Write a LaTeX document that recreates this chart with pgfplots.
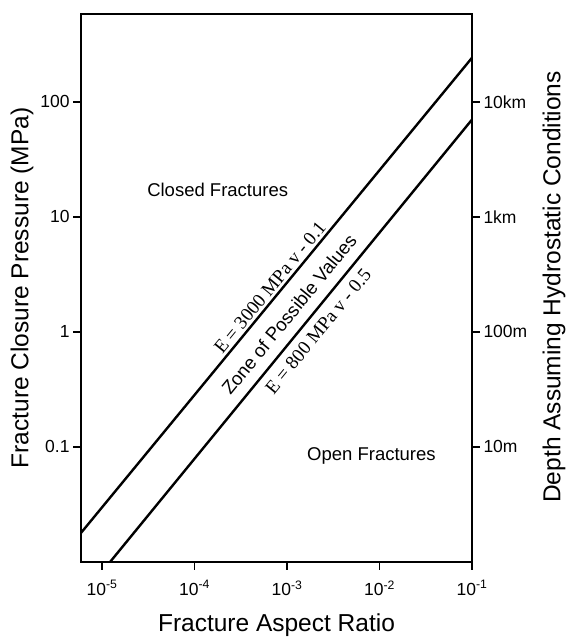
\documentclass[border=0pt]{standalone}
\usepackage{pgfplots}
\pgfplotsset{compat=1.18}
\usepackage{fontspec}
\setmainfont{Liberation Sans}
\newfontfamily\seriffont{Liberation Serif}
\begin{document}
\begin{tikzpicture}
\begin{loglogaxis}[
  scale only axis, width=391pt, height=548pt,
  xmin=5.92e-6, xmax=0.1, ymin=0.01, ymax=579,
  xminorticks=false, yminorticks=false,
  tick align=outside, major tick length=8pt,
  every tick/.style={line width=1.9pt, black},
  every tick label/.append style={font=\fontsize{17.5}{20}\selectfont},
  axis line style={line width=2.7pt},
  clip=false,
  xtick={1e-5,1e-4,1e-3,1e-2,1e-1},
  xticklabels={10\textsuperscript{-5},10\textsuperscript{-4},10\textsuperscript{-3},10\textsuperscript{-2},10\textsuperscript{-1}},
  xticklabel style={yshift=-7pt},
  ytick={0.1,1,10,100},
  yticklabels={0.1,1,10,100},
  xtick pos=bottom, ytick pos=left,
]
\addplot[black, line width=2.4pt] coordinates {(5.92e-6,0.0179) (0.1,241)};
\addplot[black, line width=2.4pt] coordinates {(1.22e-5,0.01) (0.1,70)};
\node[font=\fontsize{18.5}{22}\selectfont] at (axis cs:1.78e-4,17.3) {Closed Fractures};
\node[font=\fontsize{18.5}{22}\selectfont] at (axis cs:8.18e-3,0.0834) {Open Fractures};
\node[font=\seriffont\fontsize{19}{22}\selectfont, rotate=50.6, inner sep=0pt] at (axis cs:6.53e-4,2.44) {E = 3000 MPa v - 0.1};
\node[font=\fontsize{18.7}{22}\selectfont, rotate=50.6, inner sep=0pt] at (axis cs:1.05e-3,1.42) {Zone of Possible Values};
\node[font=\seriffont\fontsize{19}{22}\selectfont, rotate=50.6, inner sep=0pt] at (axis cs:2.17e-3,1.01) {E = 800 MPa v - 0.5};
\node[font=\fontsize{24.5}{28}\selectfont, anchor=base] at (rel axis cs:0.5,-0.1277) {Fracture Aspect Ratio};
\node[font=\fontsize{24.5}{28}\selectfont, rotate=90] at (rel axis cs:-0.151,0.5) {Fracture Closure Pressure (MPa)};
\node[font=\fontsize{24.5}{28}\selectfont, rotate=90] at (rel axis cs:1.21,0.502) {Depth Assuming Hydrostatic Conditions};
\end{loglogaxis}
\begin{loglogaxis}[
  scale only axis, width=391pt, height=548pt,
  xmin=5.92e-6, xmax=0.1, ymin=0.01, ymax=579,
  xminorticks=false, yminorticks=false,
  tick align=outside, major tick length=8pt,
  every tick/.style={line width=1.9pt, black},
  every tick label/.append style={font=\fontsize{17.5}{20}\selectfont},
  axis line style={line width=2.7pt},
  hide x axis,
  axis y line*=right,
  ytick={0.1,1,10,100},
  yticklabels={10m,100m,1km,10km},
]
\end{loglogaxis}
\pgfresetboundingbox
\useasboundingbox ([shift={(-81pt,-76pt)}]current axis.south west) rectangle ([shift={(95pt,14pt)}]current axis.north east);
\end{tikzpicture}
\end{document}
